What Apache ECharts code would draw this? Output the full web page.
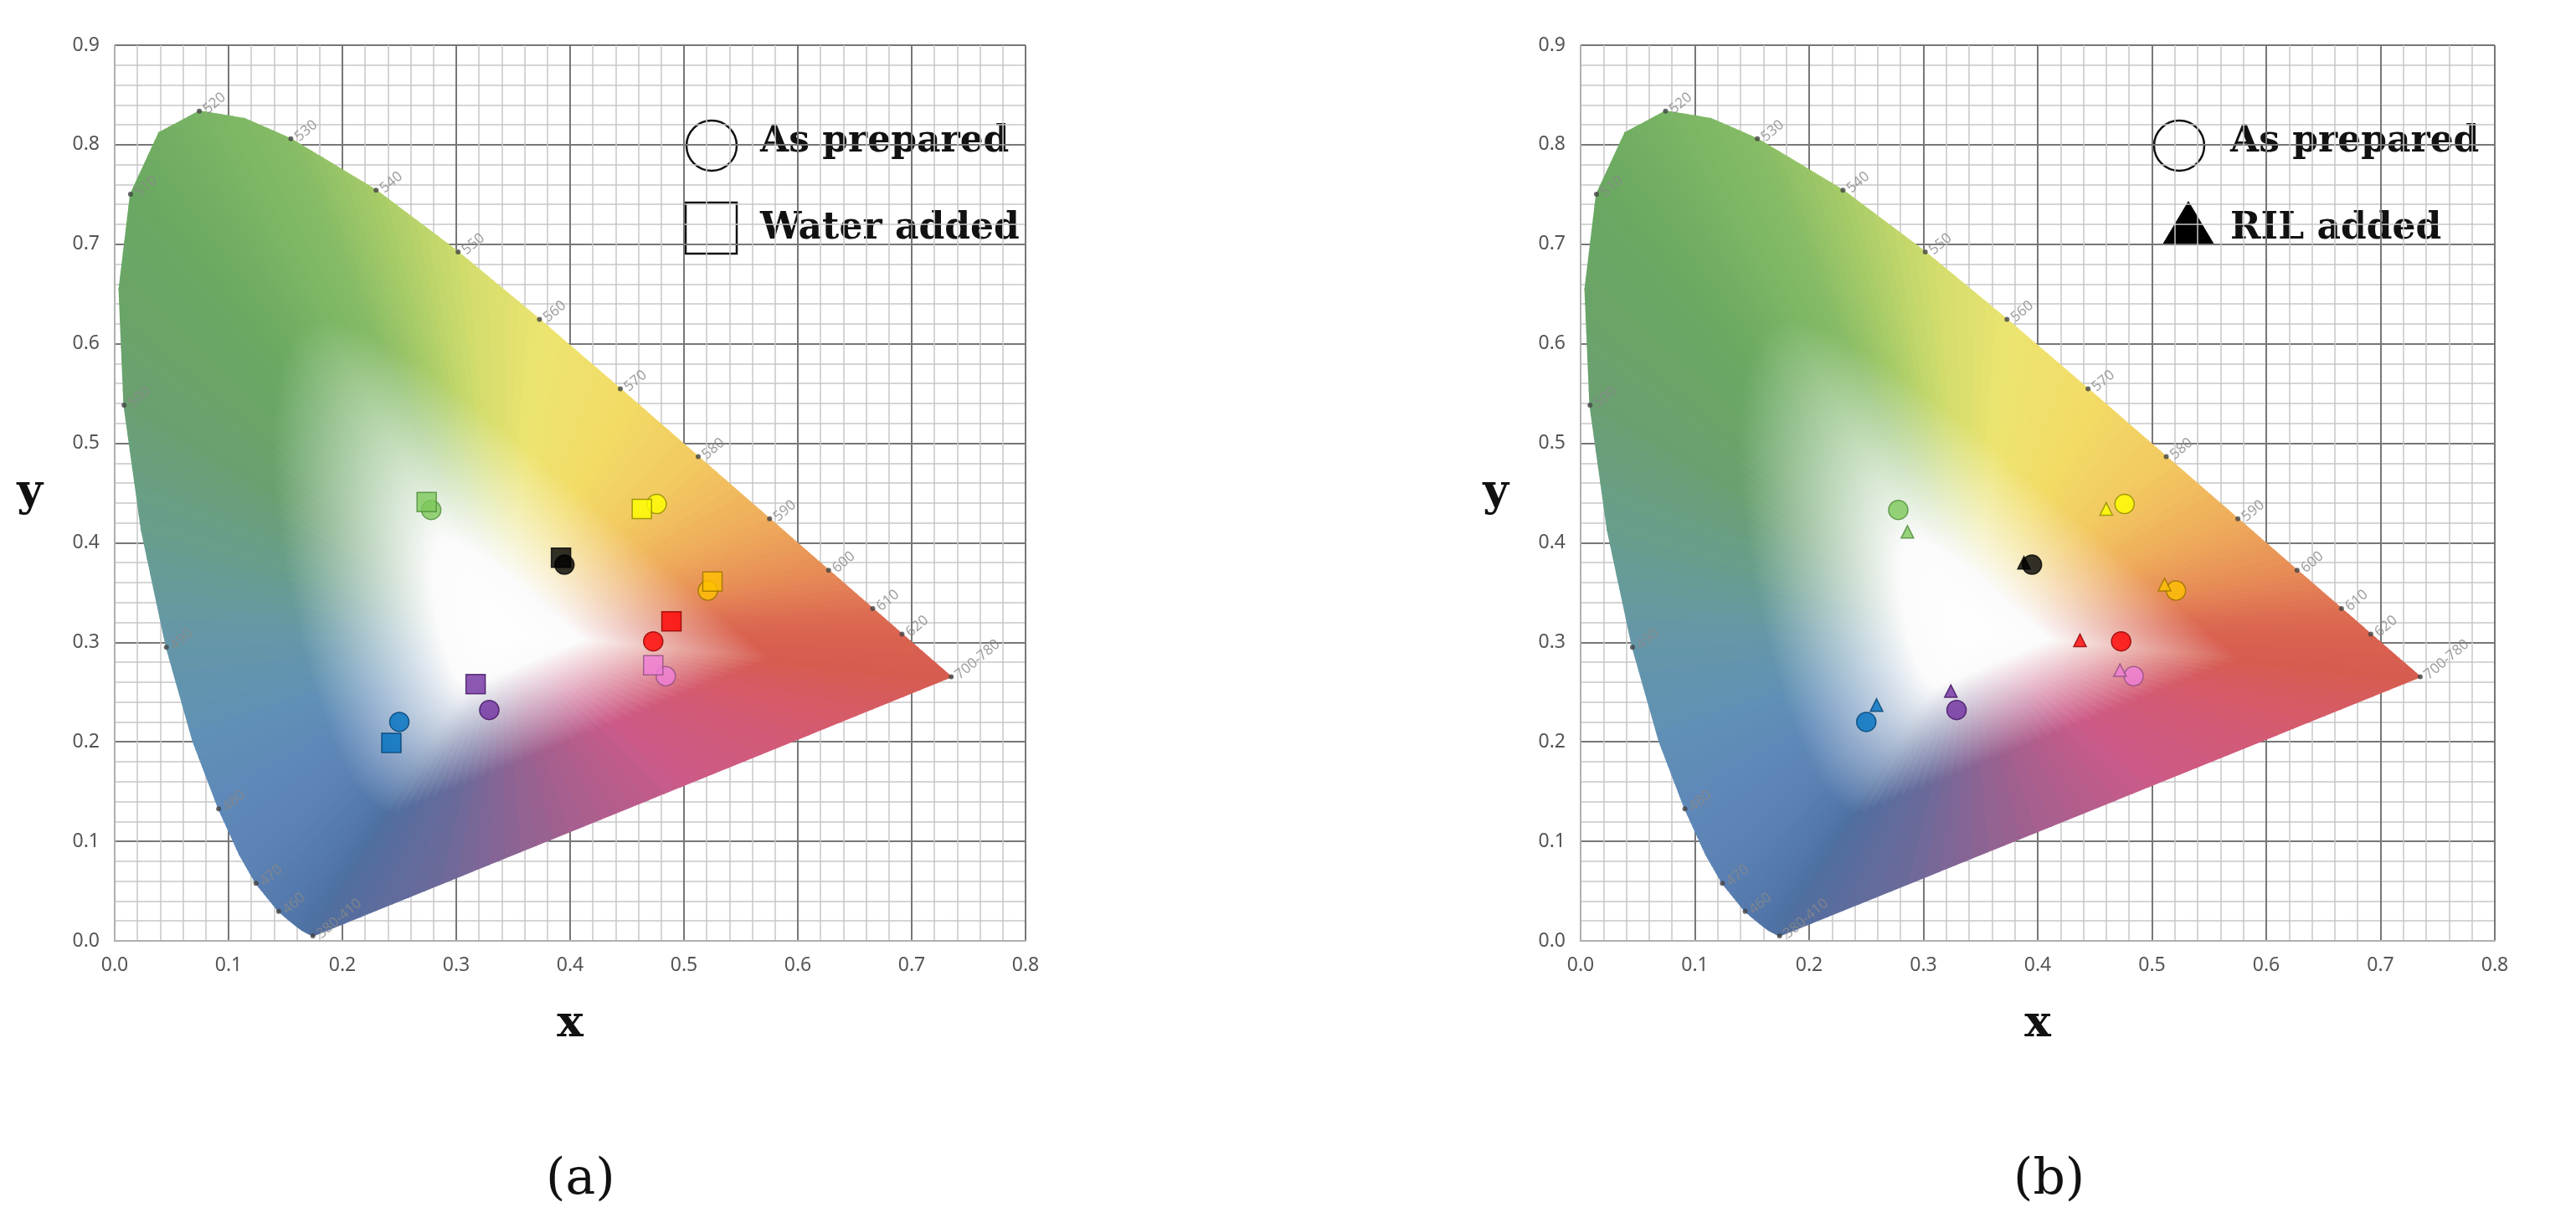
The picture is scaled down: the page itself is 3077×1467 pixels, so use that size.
<!DOCTYPE html>
<html>
<head>
<meta charset="utf-8">
<script src="https://cdn.jsdelivr.net/npm/echarts@6/dist/echarts.min.js"></script>
<style>
  html, body {margin: 0; padding: 0; background: #fff;}
  #main {width: 3077px; height: 1467px;}
</style>
</head>
<body>
<div id="main"></div>
<script>
// CIE 1931 spectral locus: [wavelength, x, y, colour]
const locus = [
  [380, 0.1741, 0.0050, '#4d6fa0'],
  [440, 0.1644, 0.0109, '#4f72a4'],
  [450, 0.1566, 0.0177, '#5275a8'],
  [460, 0.1440, 0.0297, '#5479ac'],
  [470, 0.1241, 0.0578, '#5a80b2'],
  [475, 0.1096, 0.0868, '#5c84b5'],
  [480, 0.0913, 0.1327, '#5e88b8'],
  [485, 0.0687, 0.2007, '#6090b5'],
  [490, 0.0454, 0.2950, '#6597a8'],
  [495, 0.0235, 0.4127, '#689e8a'],
  [500, 0.0082, 0.5384, '#6aa070'],
  [505, 0.0039, 0.6548, '#6aa567'],
  [510, 0.0139, 0.7502, '#6aa862'],
  [515, 0.0389, 0.8120, '#72ae62'],
  [520, 0.0743, 0.8338, '#7ab565'],
  [525, 0.1142, 0.8262, '#80b865'],
  [530, 0.1547, 0.8059, '#88bc66'],
  [540, 0.2296, 0.7543, '#a8cc68'],
  [550, 0.3016, 0.6923, '#d0dc6c'],
  [560, 0.3731, 0.6245, '#ece470'],
  [570, 0.4441, 0.5547, '#f2dc66'],
  [580, 0.5125, 0.4866, '#f2c860'],
  [590, 0.5752, 0.4242, '#eeaa5a'],
  [600, 0.6270, 0.3725, '#e68a56'],
  [610, 0.6658, 0.3340, '#dd6e52'],
  [620, 0.6915, 0.3083, '#d9634f'],
  [640, 0.7190, 0.2809, '#d75e50'],
  [700, 0.7347, 0.2653, '#d65c50']
];
const purpleLine = ['#d65c55', '#d45a70', '#cc5a88', '#a0608f', '#6a6a9a', '#4d6fa0'];
const whitePoint = [0.34, 0.31];

// wavelength marks on the locus
const waveMarks = [
  ['380-410', 0.1741, 0.0050], ['460', 0.1440, 0.0297], ['470', 0.1241, 0.0578],
  ['480', 0.0913, 0.1327], ['490', 0.0454, 0.2950], ['500', 0.0082, 0.5384],
  ['510', 0.0139, 0.7502], ['520', 0.0743, 0.8338], ['530', 0.1547, 0.8059],
  ['540', 0.2296, 0.7543], ['550', 0.3016, 0.6923], ['560', 0.3731, 0.6245],
  ['570', 0.4441, 0.5547], ['580', 0.5125, 0.4866], ['590', 0.5752, 0.4242],
  ['600', 0.6270, 0.3725], ['610', 0.6658, 0.3340], ['620', 0.6915, 0.3083],
  ['700-780', 0.7347, 0.2653]
];

// sample colours
const sampleFill = ['#7dc85a', '#ffff00', '#000000', '#ffc000', '#ff0000', '#f080d8', '#7030a0', '#0070c0'];
const sampleEdge = ['#4e8a3a', '#8a8a00', '#000000', '#9a7000', '#900000', '#905080', '#40105e', '#004070'];

// as prepared (circles)
const preparedX = [0.278, 0.476, 0.395, 0.521, 0.473, 0.484, 0.329, 0.250];
const preparedY = [0.433, 0.439, 0.378, 0.352, 0.301, 0.266, 0.232, 0.220];
// water added (squares)
const waterX = [0.274, 0.463, 0.392, 0.525, 0.489, 0.473, 0.317, 0.243];
const waterY = [0.441, 0.434, 0.385, 0.361, 0.321, 0.277, 0.258, 0.199];
// RIL added (triangles)
const rilX = [0.286, 0.460, 0.388, 0.511, 0.437, 0.472, 0.324, 0.259];
const rilY = [0.411, 0.434, 0.380, 0.358, 0.302, 0.272, 0.251, 0.237];

const chart = echarts.init(document.getElementById('main'));

const renderGamut = (params, api) => {
  if (params.dataIndex !== 0) return;
  const base = locus.map((p) => ({xy: [p[1], p[2]], c: p[3]}));
  // close along the line of purples
  const a = locus[locus.length - 1], b = locus[0];
  for (let i = 1; i < purpleLine.length; i++) {
    const t = i / (purpleLine.length - 1);
    base.push({xy: [a[1] + (b[1] - a[1]) * t, a[2] + (b[2] - a[2]) * t], c: purpleLine[i]});
  }
  // subdivide for smooth colour transitions
  const pts = [];
  const n = 8;
  for (let i = 0; i < base.length - 1; i++) {
    const p = base[i], q = base[i + 1];
    for (let k = 0; k < n; k++) {
      const t = k / n;
      pts.push({
        xy: [p.xy[0] + (q.xy[0] - p.xy[0]) * t, p.xy[1] + (q.xy[1] - p.xy[1]) * t],
        c: echarts.color.lerp(t, [p.c, q.c])
      });
    }
  }
  pts.push(base[base.length - 1]);
  const w = api.coord(whitePoint);
  const children = [];
  for (let i = 0; i < pts.length - 1; i++) {
    const p1 = api.coord(pts[i].xy), p2 = api.coord(pts[i + 1].xy);
    const mx = (p1[0] + p2[0]) / 2, my = (p1[1] + p2[1]) / 2;
    const g = new echarts.graphic.LinearGradient(w[0], w[1], mx, my, [
      {offset: 0, color: '#ffffff'},
      {offset: 0.18, color: '#fbfbfb'},
      {offset: 0.6, color: pts[i].c},
      {offset: 1, color: pts[i].c}
    ], true);
    children.push({
      type: 'polygon',
      shape: {points: [w, p1, p2]},
      style: {fill: g, stroke: g, lineWidth: 1.5}
    });
  }
  return {type: 'group', children, style: {opacity: 0.9}};
};

const axisCommon = {
  min: 0,
  axisLine: {show: true, lineStyle: {color: '#b0b0b0', width: 2}},
  axisTick: {show: false},
  axisLabel: {color: '#555', fontSize: 23, fontFamily: 'Noto Sans', formatter: (v) => v.toFixed(1), margin: 18},
  splitLine: {show: true, lineStyle: {color: '#777', width: 2}},
  minorTick: {show: false, splitNumber: 5},
  minorSplitLine: {show: true, lineStyle: {color: '#c8c8c8', width: 1.5}},
  nameTextStyle: {fontFamily: 'DejaVu Serif', fontWeight: 'bold', fontSize: 53, color: '#111'}
};

const mkX = (i) => ({...axisCommon, gridIndex: i, type: 'value', max: 0.8, interval: 0.1,
  name: 'x', nameLocation: 'middle', nameGap: 74});
const mkY = (i) => ({...axisCommon, gridIndex: i, type: 'value', max: 0.9, interval: 0.1,
  name: 'y', nameLocation: 'middle', nameGap: 86, nameRotate: 0});

const sampleSeries = (xs, ys, symbol, size, i, name) => ({
  type: 'scatter', name, xAxisIndex: i, yAxisIndex: i, symbol, symbolSize: size, z: 5,
  data: xs.map((x, k) => ({
    value: [x, ys[k]],
    itemStyle: {color: sampleFill[k], borderColor: sampleEdge[k], borderWidth: 1.5}
  }))
});

const markSeries = (i) => ({
  type: 'scatter', xAxisIndex: i, yAxisIndex: i, symbolSize: 6, z: 4, silent: true,
  itemStyle: {color: '#444'},
  data: waveMarks.map((m) => ({value: [m[1], m[2]], name: m[0]})),
  label: {show: true, formatter: '{b}', position: 'right', rotate: 40, distance: 4,
    color: '#888', fontSize: 17, fontFamily: 'Noto Sans'}
});

const gamutSeries = (i) => ({
  type: 'custom', xAxisIndex: i, yAxisIndex: i, data: [0], z: 1, silent: true,
  renderItem: renderGamut, clip: false
});

const legendText = (x, y, text) => ({
  type: 'text', left: x, top: y,
  style: {text, font: 'bold 44px "DejaVu Serif"', fill: '#111'}
});

chart.setOption({
  animation: false,
  grid: [
    {left: 137, top: 54, width: 1088, height: 1070},
    {left: 1888, top: 54, width: 1092, height: 1070}
  ],
  xAxis: [mkX(0), mkX(1)],
  yAxis: [mkY(0), mkY(1)],
  series: [
    gamutSeries(0), gamutSeries(1), markSeries(0), markSeries(1),
    sampleSeries(preparedX, preparedY, 'circle', 23, 0, 'As prepared'),
    sampleSeries(waterX, waterY, 'rect', 23, 0, 'Water added'),
    sampleSeries(preparedX, preparedY, 'circle', 23, 1, 'As prepared'),
    sampleSeries(rilX, rilY, 'triangle', 15, 1, 'RIL added')
  ],
  graphic: [
    {type: 'circle', shape: {cx: 850, cy: 174, r: 30}, style: {fill: '#fff', stroke: '#111', lineWidth: 2.5}},
    legendText(908, 148, 'As prepared'),
    {type: 'rect', shape: {x: 819, y: 242, width: 61, height: 61}, style: {fill: '#fff', stroke: '#111', lineWidth: 2.5}},
    legendText(908, 252, 'Water added'),
    {type: 'circle', shape: {cx: 2603, cy: 174, r: 30}, style: {fill: '#fff', stroke: '#111', lineWidth: 2.5}},
    legendText(2664, 148, 'As prepared'),
    {type: 'polygon', shape: {points: [[2583, 292], [2645, 292], [2614, 240]]}, style: {fill: '#000'}},
    legendText(2664, 252, 'RIL added'),
    {type: 'text', left: 'center', top: 1380, style: {text: '(a)', font: '60px "DejaVu Serif"', fill: '#111', x: 0}, left: 652},
    {type: 'text', top: 1380, left: 2405, style: {text: '(b)', font: '60px "DejaVu Serif"', fill: '#111'}}
  ]
});
</script>
</body>
</html>
